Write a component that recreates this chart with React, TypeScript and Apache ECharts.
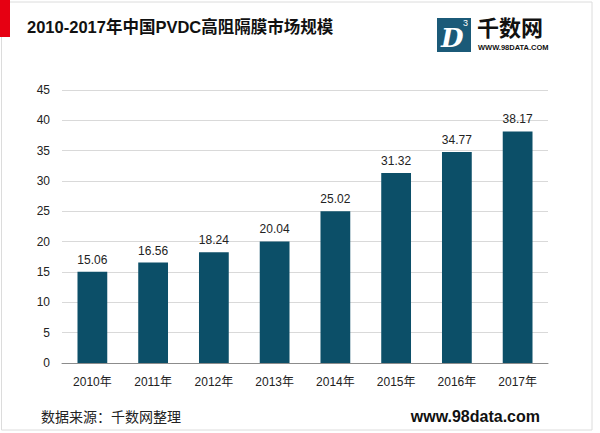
import React, { useEffect, useRef } from "react";
import * as echarts from "echarts";

const categories = ["2010年", "2011年", "2012年", "2013年", "2014年", "2015年", "2016年", "2017年"];
const values = [15.06, 16.56, 18.24, 20.04, 25.02, 31.32, 34.77, 38.17];
const yTicks = { min: 0, max: 45, interval: 5 };

const FONT = "'Liberation Sans', Arial, 'Noto Sans CJK SC', sans-serif";
const BAR = "#0c4f68";

export default function App() {
  const ref = useRef<HTMLDivElement>(null);
  useEffect(() => {
    if (!ref.current) return;
    const chart = echarts.init(ref.current, null, { renderer: "svg" });
    chart.setOption({
      animation: false,
      backgroundColor: "#ffffff",
      textStyle: { fontFamily: FONT },
      grid: { left: 62, right: 52, top: 90, bottom: 70 },
      xAxis: {
        type: "category",
        data: categories,
        axisTick: { show: false },
        axisLine: { lineStyle: { color: "#8c8c8c", width: 1 } },
        axisLabel: { color: "#222", fontSize: 12, margin: 13, fontFamily: FONT },
      },
      yAxis: {
        type: "value",
        min: yTicks.min,
        max: yTicks.max,
        interval: yTicks.interval,
        axisLine: { show: false },
        axisTick: { show: false },
        axisLabel: { color: "#222", fontSize: 12, margin: 12, fontFamily: FONT },
        splitLine: { lineStyle: { color: "#d9d9d9", width: 1 } },
      },
      series: [
        {
          type: "bar",
          data: values,
          barWidth: "49%",
          itemStyle: { color: BAR },
          label: {
            show: true,
            position: "top",
            distance: 6,
            color: "#222",
            fontSize: 12,
            fontFamily: FONT,
            formatter: (p: any) => p.value.toFixed(2),
          },
        },
      ],
      graphic: [
        {
          type: "rect",
          shape: { x: 1.5, y: 2, width: 590.5, height: 428 },
          style: { fill: "none", stroke: "#dcdcdc", lineWidth: 1 },
          silent: true,
        },
        {
          type: "rect",
          shape: { x: 0, y: 0, width: 10, height: 37 },
          style: { fill: "#e60012" },
        },
        {
          type: "text",
          x: 27,
          y: 27,
          style: {
            text: "2010-2017年中国PVDC高阻隔膜市场规模",
            fill: "#111",
            font: `bold 16.5px ${FONT}`,
            textVerticalAlign: "middle",
            verticalAlign: "middle",
          },
        },
        {
          type: "rect",
          shape: { x: 437, y: 18, width: 34, height: 34 },
          style: { fill: "#1b5a78" },
        },
        {
          type: "text",
          x: 441,
          y: 38,
          style: {
            text: "D",
            fill: "#ffffff",
            font: `italic bold 26px 'DejaVu Serif', serif`,
            verticalAlign: "middle",
            textVerticalAlign: "middle",
          },
        },
        {
          type: "text",
          x: 463,
          y: 23,
          style: {
            text: "3",
            fill: "#ffffff",
            font: `9px ${FONT}`,
            verticalAlign: "middle",
            textVerticalAlign: "middle",
          },
        },
        {
          type: "text",
          x: 477,
          y: 26,
          style: {
            text: "千数网",
            fill: "#111",
            font: `bold 22px 'Noto Sans CJK SC', sans-serif`,
            verticalAlign: "middle",
            textVerticalAlign: "middle",
          },
        },
        {
          type: "text",
          x: 478,
          y: 47,
          style: {
            text: "WWW.98DATA.COM",
            fill: "#111",
            font: `bold 7.5px ${FONT}`,
            verticalAlign: "middle",
            textVerticalAlign: "middle",
          },
        },
        {
          type: "text",
          x: 41,
          y: 416,
          style: {
            text: "数据来源：千数网整理",
            fill: "#222",
            font: `14px 'Noto Sans CJK SC', sans-serif`,
            verticalAlign: "middle",
            textVerticalAlign: "middle",
          },
        },
        {
          type: "text",
          x: 540,
          y: 416,
          style: {
            text: "www.98data.com",
            fill: "#111",
            font: `bold 16px ${FONT}`,
            align: "right",
            textAlign: "right",
            verticalAlign: "middle",
            textVerticalAlign: "middle",
          },
        },
      ],
    });
    return () => chart.dispose();
  }, []);
  return (
    <div
      ref={ref}
      style={{ position: "fixed", left: 0, top: 0, width: 600, height: 433 }}
    />
  );
}
